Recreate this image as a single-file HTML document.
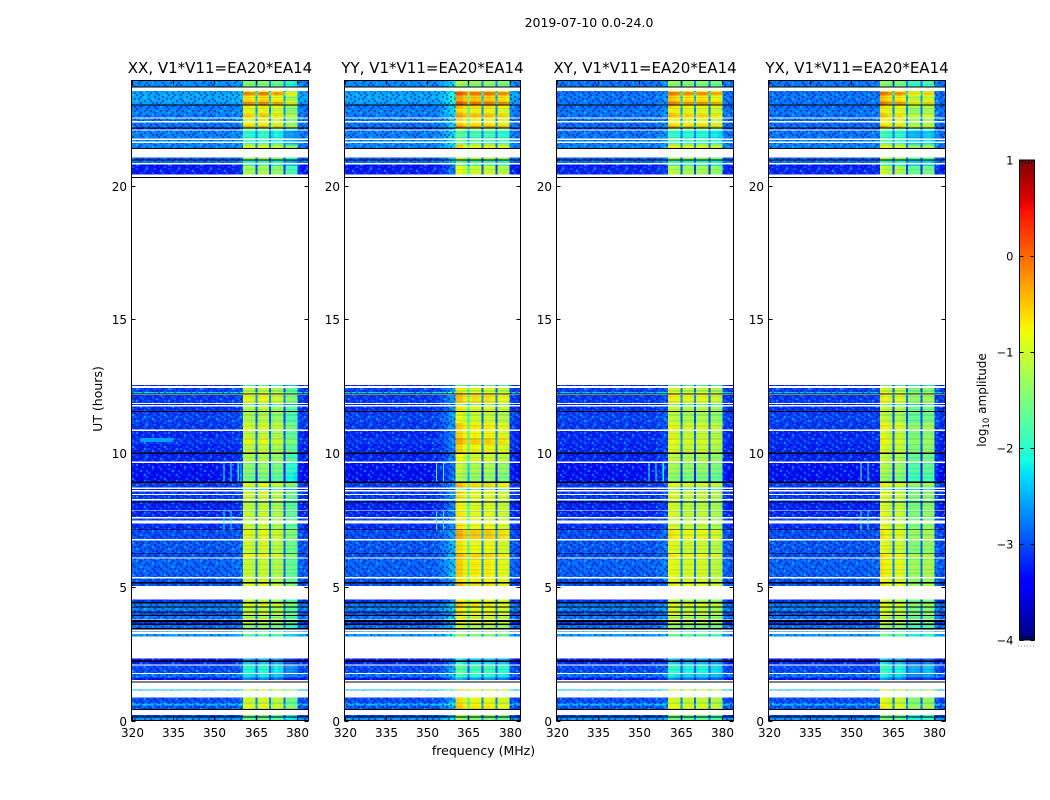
<!DOCTYPE html>
<html lang="en">
<head>
<meta charset="utf-8">
<title>2019-07-10 spectrogram panels</title>
<style>
  html, body { margin: 0; padding: 0; background: #fff; }
  body { width: 1050px; height: 800px; overflow: hidden; }
  svg { display: block; font-family: "DejaVu Sans", "Liberation Sans", sans-serif; fill: #000; }
</style>
</head>
<body>
<svg id="chart" xmlns="http://www.w3.org/2000/svg" width="1050" height="800" viewBox="0 0 1050 800">
  <defs id="defs"></defs>
  <text x="589" y="27" font-size="12.5" text-anchor="middle">2019-07-10 0.0-24.0</text>
  <text x="483.5" y="755" font-size="12.5" text-anchor="middle">frequency (MHz)</text>
  <text transform="translate(102,399) rotate(-90)" font-size="12.5" text-anchor="middle">UT (hours)</text>
  <text transform="translate(986,400) rotate(-90)" font-size="12" text-anchor="middle">log<tspan font-size="8.5" dy="3">10</tspan><tspan dy="-3"> amplitude</tspan></text>
  <g id="panels"></g>
  <g id="colorbar"></g>
</svg>
<script>
// ---- axis data ----
const panelTitles = ["XX, V1*V11=EA20*EA14", "YY, V1*V11=EA20*EA14", "XY, V1*V11=EA20*EA14", "YX, V1*V11=EA20*EA14"];
const freqTicks = [320, 335, 350, 365, 380];
const hourTicks = [0, 5, 10, 15, 20];
const colorTicks = [-4, -3, -2, -1, 0, 1];
const freqRange = [320, 384];
const hourRange = [0, 23.93];
const colorRange = [-4, 1];

// ---- time bands (UT hours), top to bottom; gaps between bands are unobserved (white) ----
const bandTop = [
  23.93,23.71,23.54,23.50,23.37,23.14,23.03,22.99,22.88,22.77,
  22.66,22.51,22.36,22.25,22.17,22.14,22.06,21.70,21.59,21.53,
  21.40,21.05,20.97,20.94,20.79,20.75,20.32,12.55,12.43,12.28,
  12.23,12.17,11.83,11.74,11.57,11.53,11.12,10.83,10.56,10.34,
  10.02,9.97,9.62,9.29,8.93,8.88,8.65,8.56,8.43,8.23,
  8.19,8.15,7.83,7.55,7.36,7.15,7.12,6.73,6.25,6.22,
  6.05,5.31,5.17,5.13,4.52,4.44,4.38,4.27,4.23,4.08,
  4.03,3.95,3.91,3.75,3.69,3.63,3.58,3.45,3.33,3.23,
  2.32,2.25,2.19,2.05,1.73,1.61,1.46,1.16,0.86,0.64,
  0.56,0.43,0.21,0.15,0.11];
const bandBottom = [
  23.71,23.67,23.50,23.37,23.14,23.03,22.99,22.88,22.77,22.66,
  22.54,22.41,22.25,22.17,22.14,22.10,21.76,21.65,21.53,21.40,
  21.37,20.97,20.94,20.84,20.75,20.41,20.28,12.51,12.28,12.23,
  12.19,11.87,11.80,11.57,11.53,11.12,10.88,10.56,10.34,10.02,
  9.97,9.68,9.29,8.93,8.88,8.71,8.61,8.46,8.28,8.19,
  8.15,7.86,7.60,7.47,7.15,7.12,6.78,6.25,6.22,6.09,
  5.36,5.17,5.13,5.02,4.44,4.38,4.27,4.23,4.08,4.03,
  3.95,3.91,3.78,3.69,3.63,3.58,3.45,3.41,3.30,3.15,
  2.25,2.19,2.10,1.77,1.61,1.52,1.43,1.12,0.64,0.56,
  0.43,0.39,0.15,0.11,0.00];

// ---- off-band background level per time band (log10 amplitude); null = flagged row drawn black ----
const bgParallel = [
  -2.7,null,-2.6,-2.55,-2.55,-2.6,null,-2.8,-2.75,-2.75,
  -2.8,-2.8,-2.8,-2.8,null,-3.15,-2.75,-2.7,-2.7,-2.75,
  null,-2.9,null,-2.8,-3.35,-3.25,null,-3.25,-3.05,-2.35,
  null,-3.1,-3.25,-3.15,null,-3.05,-3.1,-3.2,-3.1,-3.2,
  null,-3.2,-3.3,-3.3,null,-3.1,-3.35,-3.1,-3.1,-3.15,
  null,-3.2,-3.2,-3.05,-3.15,null,-3,-2.95,null,-3,
  -2.9,-3,null,-3,-3.15,null,-2.75,null,-2.75,null,
  -3,null,-2.8,null,-3.15,null,-2.85,null,-2.95,-2.6,
  -3.3,null,-3.2,-3,-2.8,-3.3,null,-2.35,-3,-2.45,
  -3,null,-3.1,null,-2.65];
const bgCross = [
  -2.8,null,-2.8,-2.8,-2.8,-2.8,null,-2.85,-2.8,-2.8,
  -2.85,-2.85,-2.85,-2.8,null,-3.15,-2.8,-2.75,-2.75,-2.75,
  null,-2.9,null,-2.8,-3.35,-3.2,null,-3.25,-3.05,-2.45,
  null,-3.1,-3.25,-3.15,null,-3.05,-3.1,-3.2,-3.15,-3.2,
  null,-3.2,-3.3,-3.3,null,-3.1,-3.35,-3.1,-3.1,-3.15,
  null,-3.2,-3.2,-3.05,-3.15,null,-3,-2.95,null,-3,
  -2.9,-3,null,-3,-3.15,null,-2.75,null,-2.75,null,
  -3,null,-2.8,null,-3.15,null,-2.85,null,-2.95,-2.6,
  -3.3,null,-3.2,-3,-2.8,-3.3,null,-2.35,-3,-2.45,
  -3,null,-3.1,null,-2.65];

// ---- in-band (360-380 MHz) level per time band, one array per polarisation ----
const hotXX = [
  -1.6,null,-.8,-.25,-.75,-.3,null,-.8,-1.05,-.85,
  -.6,-1,-.95,-.55,null,-1.5,-2.1,-1.9,-2,-1,
  null,-1.5,null,-2,-2.2,-1.35,null,-1.8,-1.2,-1,
  null,-.95,-2,-1.2,null,-1.3,-1.05,-1.2,-.95,-1.2,
  null,-1.3,-1.5,-1.65,null,-1,-2,-1,-1.1,-1.5,
  null,-1.2,-1.15,-1.2,-1.15,null,-.95,-1.1,null,-.9,
  -1.15,-1.2,null,-.9,-1.2,null,-1,null,-1.2,null,
  -1.1,null,-1.3,null,-1.2,null,-1.5,null,-2,-1.8,
  -2.6,null,-2.5,-2.15,-2.35,-2.8,null,-1,-1.1,-1.05,
  -.95,null,-1.7,null,-1.7];
const hotYY = [
  -1.5,null,-.7,-.2,-.65,-.2,null,-.75,-1,-.8,
  -.55,-.9,-.85,-.45,null,-1.4,-2,-1.8,-1.9,-.9,
  null,-1.4,null,-1.9,-2.1,-1.15,null,-1.7,-1.05,-.9,
  null,-.8,-1.8,-1,null,-1.15,-.85,-.9,-.65,-.9,
  null,-1.1,-1.35,-1.5,null,-.75,-1.8,-.9,-.95,-1.3,
  null,-1.05,-1,-1.05,-.95,null,-.65,-.95,null,-.7,
  -.85,-.95,null,-.75,-1,null,-.8,null,-1,null,
  -.9,null,-1.1,null,-1,null,-1.3,null,-1.8,-1.6,
  -2.5,null,-2.4,-2,-2.2,-2.7,null,-.9,-.95,-.9,
  -.8,null,-1.6,null,-1.6];
const hotXY = [
  -1.5,null,-.8,-.25,-.7,-.3,null,-.8,-1,-.8,
  -.6,-.95,-.9,-.5,null,-1.5,-2.1,-1.9,-2,-.9,
  null,-1.5,null,-2,-2.2,-1.3,null,-1.7,-1.1,-.9,
  null,-.9,-2,-1.15,null,-1.25,-1,-1.1,-.95,-1.1,
  null,-1.25,-1.4,-1.55,null,-.95,-2,-1,-1.05,-1.5,
  null,-1.15,-1.1,-1.2,-1.1,null,-.85,-1.05,null,-.85,
  -1,-1.1,null,-.85,-1.2,null,-.95,null,-1.15,null,
  -1.05,null,-1.25,null,-1.2,null,-1.45,null,-2,-1.8,
  -2.6,null,-2.5,-2.15,-2.35,-2.8,null,-1,-1.1,-1.05,
  -.95,null,-1.7,null,-1.7];
const hotYX = [
  -1.6,null,-.8,-.3,-.75,-.35,null,-.9,-1.05,-.9,
  -.7,-1,-1,-.6,null,-1.5,-2.1,-1.9,-2,-1,
  null,-1.5,null,-2,-2.2,-1.3,null,-1.7,-1.15,-1,
  null,-1,-2,-1.2,null,-1.3,-1,-1.15,-1,-1.15,
  null,-1.3,-1.4,-1.55,null,-1,-2,-1.05,-1.1,-1.5,
  null,-1.15,-1.1,-1.2,-1.1,null,-.95,-1.1,null,-.9,
  -.95,-1.1,null,-.9,-1.2,null,-1,null,-1.2,null,
  -1.1,null,-1.3,null,-1.2,null,-1.5,null,-2,-1.8,
  -2.6,null,-2.5,-2.15,-2.35,-2.8,null,-1,-1.1,-1.05,
  -.95,null,-1.7,null,-1.7];

// ---- frequency bins (MHz) and per-bin offsets ----
const lowEdges = [320,322,324,326,328,330,332,334,336,338,340,342,344,346,348,350,352,354,356,358,360.4];
const hotEdges = [360.4,361.5,363,364.8,365.5,366.5,368,369.8,370.5,371.5,373,374.9,375.6,376.7,378.5,380];
const highEdges = [380,382,384];

const lowXX = [.02,-.02,.04,0,-.03,.02,0,.04,-.02,0,.03,-.02,.02,0,-.03,.02,.04,0,.05,.1];
const lowYY = [.02,0,.02,-.02,.02,0,.03,-.02,0,.02,0,.02,-.02,0,.02,0,.02,.1,.25,.45];
const lowXY = [0,.02,-.02,.03,0,.05,-.02,0,.02,-.02,.02,0,.03,-.02,0,.02,0,.02,.05,.15];
const lowYX = [.03,0,.02,-.02,.03,0,.02,0,-.02,.02,0,.02,-.02,.02,0,-.02,.02,0,.02,.05];

const inBandXX = [.1,.1,0,-1.7,0,.15,.1,-1.7,-.2,0,-.1,-1.8,-.5,-.5,-.6];
const inBandYY = [.35,.3,.1,-1,.1,.15,.1,-1.8,.1,.15,.05,-1.9,0,0,-.1];
const inBandXY = [.2,.15,.05,-1.7,-.05,.05,0,-1.8,-.05,.05,0,-1.9,-.1,-.1,-.2];
const inBandYX = [.3,.2,.05,-1.8,.05,.1,-.05,-1.8,-.4,-.35,-.4,-1.9,-.3,-.25,-.35];

const highOffsets = [.05, -.05];

// ---- narrow interference features (cyan streaks) ----
const spikePanel = [0,0,0,0,0,0,1,1,1,1,2,2,2,3,3,3,3,0];
const spikeFreqStart = [353.2,355.8,358.4,359.4,353.2,355.8,353.2,355.8,353.2,355.8,353.2,355.8,358.4,353.2,355.8,353.2,355.8,323];
const spikeFreqEnd = [353.6,356.2,358.8,359.8,353.6,356.2,353.6,356.2,353.6,356.2,353.6,356.2,358.8,353.6,356.2,353.6,356.2,335];
const spikeTop = [9.62,9.62,9.62,9.62,7.86,7.86,9.62,9.62,7.86,7.86,9.62,9.62,9.62,9.62,9.62,7.86,7.86,10.56];
const spikeBottom = [8.93,8.93,8.93,8.93,7.12,7.12,8.93,8.93,7.12,7.12,8.93,8.93,8.93,8.93,8.93,7.12,7.12,10.42];
const spikeLevel = [-1.9,-1.9,-2.2,-2.2,-2.1,-2.1,-2,-2,-2.1,-2.1,-1.9,-2.1,-2.1,-1.7,-2,-1.8,-2.1,-2.6];

// ---- texture tiles: the fine receiver-noise grain, not measured values ----
const speckleTile = [
  "0102001030200102",
  "2001010200103001",
  "0100320010010200",
  "1020001002001010",
  "0010200103000201",
  "3001001020100100",
  "0200102001002010",
  "1001000210010030",
  "0020301000200100",
  "0100010201003002",
  "2010200010102000",
  "0001003002000101",
  "1020010100201000",
  "0100200031000120",
  "2001001002010010",
  "0030100100100201"];
const streakTile = [0,1,0,2,2,0,1,1,0,0,2,0,1,0,2,0,0,1,2,2,0,1,0,0];

// ---- layout ----
const panelLeft = [131.5, 344.5, 556.5, 768.5];
const panelWidth = [177, 176, 177, 177];
const plotTop = 80.5, plotBottom = 720.5;
const cbarLeft = 1019.5, cbarRight = 1034.5, cbarTop = 160, cbarBottom = 640;

const lowByPanel = [lowXX, lowYY, lowXY, lowYX];
const inBandByPanel = [inBandXX, inBandYY, inBandXY, inBandYX];
const hotByPanel = [hotXX, hotYY, hotXY, hotYX];
const bgByPanel = [bgParallel, bgParallel, bgCross, bgCross];
const panelKeys = ["xx", "yy", "xy", "yx"];

const SVGNS = "http://www.w3.org/2000/svg";
function make(tag) { return document.createElementNS(SVGNS, tag); }
function xScale(p, f) { return panelLeft[p] + (f - freqRange[0]) / (freqRange[1] - freqRange[0]) * panelWidth[p]; }
function yScale(h) { return plotBottom - (h - hourRange[0]) / (hourRange[1] - hourRange[0]) * (plotBottom - plotTop); }
function cbarScale(v) { return cbarBottom - (v - colorRange[0]) / (colorRange[1] - colorRange[0]) * (cbarBottom - cbarTop); }

const jetRed = [[0,0],[.35,0],[.66,1],[.89,1],[1,.5]];
const jetGreen = [[0,0],[.125,0],[.375,1],[.64,1],[.91,0],[1,0]];
const jetBlue = [[0,.5],[.11,1],[.34,1],[.65,0],[1,0]];
function lerp(table, t) {
  for (let i = 1; i < table.length; i++) {
    if (t <= table[i][0]) {
      const a = table[i - 1], b = table[i];
      return a[1] + (b[1] - a[1]) * (t - a[0]) / (b[0] - a[0]);
    }
  }
  return table[table.length - 1][1];
}
function jet(t) {
  t = Math.max(0, Math.min(1, t));
  return "rgb(" + Math.round(lerp(jetRed, t) * 255) + "," + Math.round(lerp(jetGreen, t) * 255) + "," + Math.round(lerp(jetBlue, t) * 255) + ")";
}
function colorOf(v) { return jet((v - colorRange[0]) / (colorRange[1] - colorRange[0])); }

const defs = document.getElementById("defs");

// grain pattern laid over the off-band cells
const specklePattern = make("pattern");
specklePattern.setAttribute("id", "speckle");
specklePattern.setAttribute("patternUnits", "userSpaceOnUse");
specklePattern.setAttribute("width", "32");
specklePattern.setAttribute("height", "32");
const speckleFills = { "1": "rgba(0,0,140,0.45)", "2": "rgba(0,150,255,0.45)", "3": "rgba(0,235,255,0.5)" };
speckleTile.forEach(function (row, r) {
  row.split("").forEach(function (code, c) {
    if (code !== "0") {
      const grain = make("rect");
      grain.setAttribute("x", c * 2);
      grain.setAttribute("y", r * 2);
      grain.setAttribute("width", "2");
      grain.setAttribute("height", "2");
      grain.setAttribute("fill", speckleFills[code]);
      specklePattern.appendChild(grain);
    }
  });
});
defs.appendChild(specklePattern);

// horizontal streak pattern laid over the in-band cells
const streakPattern = make("pattern");
streakPattern.setAttribute("id", "streak");
streakPattern.setAttribute("patternUnits", "userSpaceOnUse");
streakPattern.setAttribute("width", "8");
streakPattern.setAttribute("height", String(streakTile.length));
const streakFills = { 1: "rgba(0,120,120,0.16)", 2: "rgba(255,170,0,0.16)" };
streakTile.forEach(function (code, r) {
  if (code !== 0) {
    const streak = make("rect");
    streak.setAttribute("x", "0");
    streak.setAttribute("y", r);
    streak.setAttribute("width", "8");
    streak.setAttribute("height", "1");
    streak.setAttribute("fill", streakFills[code]);
    streakPattern.appendChild(streak);
  }
});
defs.appendChild(streakPattern);

function drawCell(parent, p, f0, f1, hTop, hBottom, fill) {
  const cell = make("rect");
  
  
  const x0 = xScale(p, f0), x1 = xScale(p, f1);
  const y0 = yScale(hTop), y1 = yScale(hBottom);
  cell.setAttribute("x", x0);
  cell.setAttribute("y", y0);
  cell.setAttribute("width", x1 - x0);
  cell.setAttribute("height", Math.max(y1 - y0, 0.6));
  cell.setAttribute("fill", fill);
  parent.appendChild(cell);
}

function drawTexture(parent, p, f0, f1, hTop, hBottom, fill) {
  const grainArea = make("rect");
  
  
  const x0 = xScale(p, f0), x1 = xScale(p, f1);
  const y0 = yScale(hTop), y1 = yScale(hBottom);
  grainArea.setAttribute("x", x0);
  grainArea.setAttribute("y", y0);
  grainArea.setAttribute("width", x1 - x0);
  grainArea.setAttribute("height", Math.max(y1 - y0, 0.6));
  grainArea.setAttribute("fill", fill);
  parent.appendChild(grainArea);
}

function drawSegment(parent, x1, y1, x2, y2, name) {
  const seg = make("line");
  
  
  seg.setAttribute("x1", x1);
  seg.setAttribute("y1", y1);
  seg.setAttribute("x2", x2);
  seg.setAttribute("y2", y2);
  seg.setAttribute("stroke", "#000");
  seg.setAttribute("stroke-width", "1");
  parent.appendChild(seg);
}

function drawLabel(parent, x, y, content, anchor, size, name) {
  const label = make("text");
  
  
  label.setAttribute("x", x);
  label.setAttribute("y", y);
  label.setAttribute("text-anchor", anchor);
  label.setAttribute("font-size", size);
  label.textContent = content;
  parent.appendChild(label);
}

const panelsRoot = document.getElementById("panels");

panelTitles.forEach(function (title, p) {
  const group = make("g");
  
  
  panelsRoot.appendChild(group);

  const heat = make("g");
  
  
  heat.setAttribute("shape-rendering", "crispEdges");
  group.appendChild(heat);

  const bg = bgByPanel[p], hot = hotByPanel[p], low = lowByPanel[p], inBand = inBandByPanel[p];
  bandTop.forEach(function (top, b) {
    const bottom = bandBottom[b];
    if (bg[b] === null || hot[b] === null) {
      drawCell(heat, p, freqRange[0], freqRange[1], top, bottom, "#000");
      return;
    }
    low.forEach(function (offset, c) {
      drawCell(heat, p, lowEdges[c], lowEdges[c + 1], top, bottom, colorOf(bg[b] + offset));
    });
    inBand.forEach(function (offset, c) {
      drawCell(heat, p, hotEdges[c], hotEdges[c + 1], top, bottom, colorOf(Math.max(hot[b] + offset, bg[b])));
    });
    highOffsets.forEach(function (offset, c) {
      drawCell(heat, p, highEdges[c], highEdges[c + 1], top, bottom, colorOf(bg[b] + offset));
    });
    drawTexture(heat, p, lowEdges[0], lowEdges[lowEdges.length - 1], top, bottom, "url(#speckle)");
    drawTexture(heat, p, highEdges[0], highEdges[highEdges.length - 1], top, bottom, "url(#speckle)");
    drawTexture(heat, p, hotEdges[0], hotEdges[hotEdges.length - 1], top, bottom, "url(#streak)");
  });

  spikePanel.forEach(function (owner, s) {
    if (owner === p) {
      drawCell(heat, p, spikeFreqStart[s], spikeFreqEnd[s], spikeTop[s], spikeBottom[s], colorOf(spikeLevel[s]));
    }
  });

  const frame = make("rect");
  
  
  frame.setAttribute("x", panelLeft[p]);
  frame.setAttribute("y", plotTop);
  frame.setAttribute("width", panelWidth[p]);
  frame.setAttribute("height", plotBottom - plotTop);
  frame.setAttribute("fill", "none");
  frame.setAttribute("stroke", "#000");
  frame.setAttribute("stroke-width", "1");
  group.appendChild(frame);

  freqTicks.forEach(function (f) {
    const x = Math.round(xScale(p, f)) + 0.5;
    drawSegment(group, x, plotBottom, x, plotBottom - 4, "x-tick-bottom");
    drawSegment(group, x, plotTop, x, plotTop + 4, "x-tick-top");
    drawLabel(group, x, 737, String(f), "middle", 12, "x-tick-label");
  });

  hourTicks.forEach(function (h) {
    const y = Math.round(yScale(h)) + 0.5;
    drawSegment(group, panelLeft[p], y, panelLeft[p] + 4, y, "y-tick-left");
    drawSegment(group, panelLeft[p] + panelWidth[p], y, panelLeft[p] + panelWidth[p] - 4, y, "y-tick-right");
    drawLabel(group, panelLeft[p] - 4.5, y + 4.5, String(h), "end", 12, "y-tick-label");
  });

  drawLabel(group, panelLeft[p] + panelWidth[p] / 2, 73, title, "middle", 15, "panel-title");
});

// ---- colourbar ----
const gradient = make("linearGradient");
gradient.setAttribute("id", "jet-gradient");
gradient.setAttribute("x1", "0");
gradient.setAttribute("y1", "1");
gradient.setAttribute("x2", "0");
gradient.setAttribute("y2", "0");
for (let i = 0; i <= 64; i++) {
  const stop = make("stop");
  stop.setAttribute("offset", i / 64);
  stop.setAttribute("stop-color", jet(i / 64));
  gradient.appendChild(stop);
}
defs.appendChild(gradient);

const cbarRoot = document.getElementById("colorbar");
const cbarFill = make("rect");


cbarFill.setAttribute("x", cbarLeft);
cbarFill.setAttribute("y", cbarTop);
cbarFill.setAttribute("width", cbarRight - cbarLeft);
cbarFill.setAttribute("height", cbarBottom - cbarTop);
cbarFill.setAttribute("fill", "url(#jet-gradient)");
cbarFill.setAttribute("stroke", "#000");
cbarFill.setAttribute("stroke-width", "1");
cbarRoot.appendChild(cbarFill);

colorTicks.forEach(function (v) {
  const y = Math.round(cbarScale(v)) + 0.5;
  drawSegment(cbarRoot, cbarLeft, y, cbarLeft + 4, y, "colorbar-tick-left");
  drawSegment(cbarRoot, cbarRight, y, cbarRight - 4, y, "colorbar-tick-right");
  const text = v < 0 ? "\u2212" + Math.abs(v) : String(v);
  drawLabel(cbarRoot, 1013.5, y + 4, text, "end", 11.5, "colorbar-tick-label");
});

for (let i = 0; i < 6; i++) {
  const x = cbarLeft + i * 3;
  drawSegment(cbarRoot, x, cbarTop, x, cbarTop + 4, "colorbar-edge-tick-top");
  drawSegment(cbarRoot, x, cbarBottom, x, cbarBottom - 4, "colorbar-edge-tick-bottom");
  const dot = make("rect");
  
  
  dot.setAttribute("x", x - 1.5);
  dot.setAttribute("y", 645.5);
  dot.setAttribute("width", 1);
  dot.setAttribute("height", 1);
  dot.setAttribute("fill", "#888");
  cbarRoot.appendChild(dot);
}
</script>
</body>
</html>
